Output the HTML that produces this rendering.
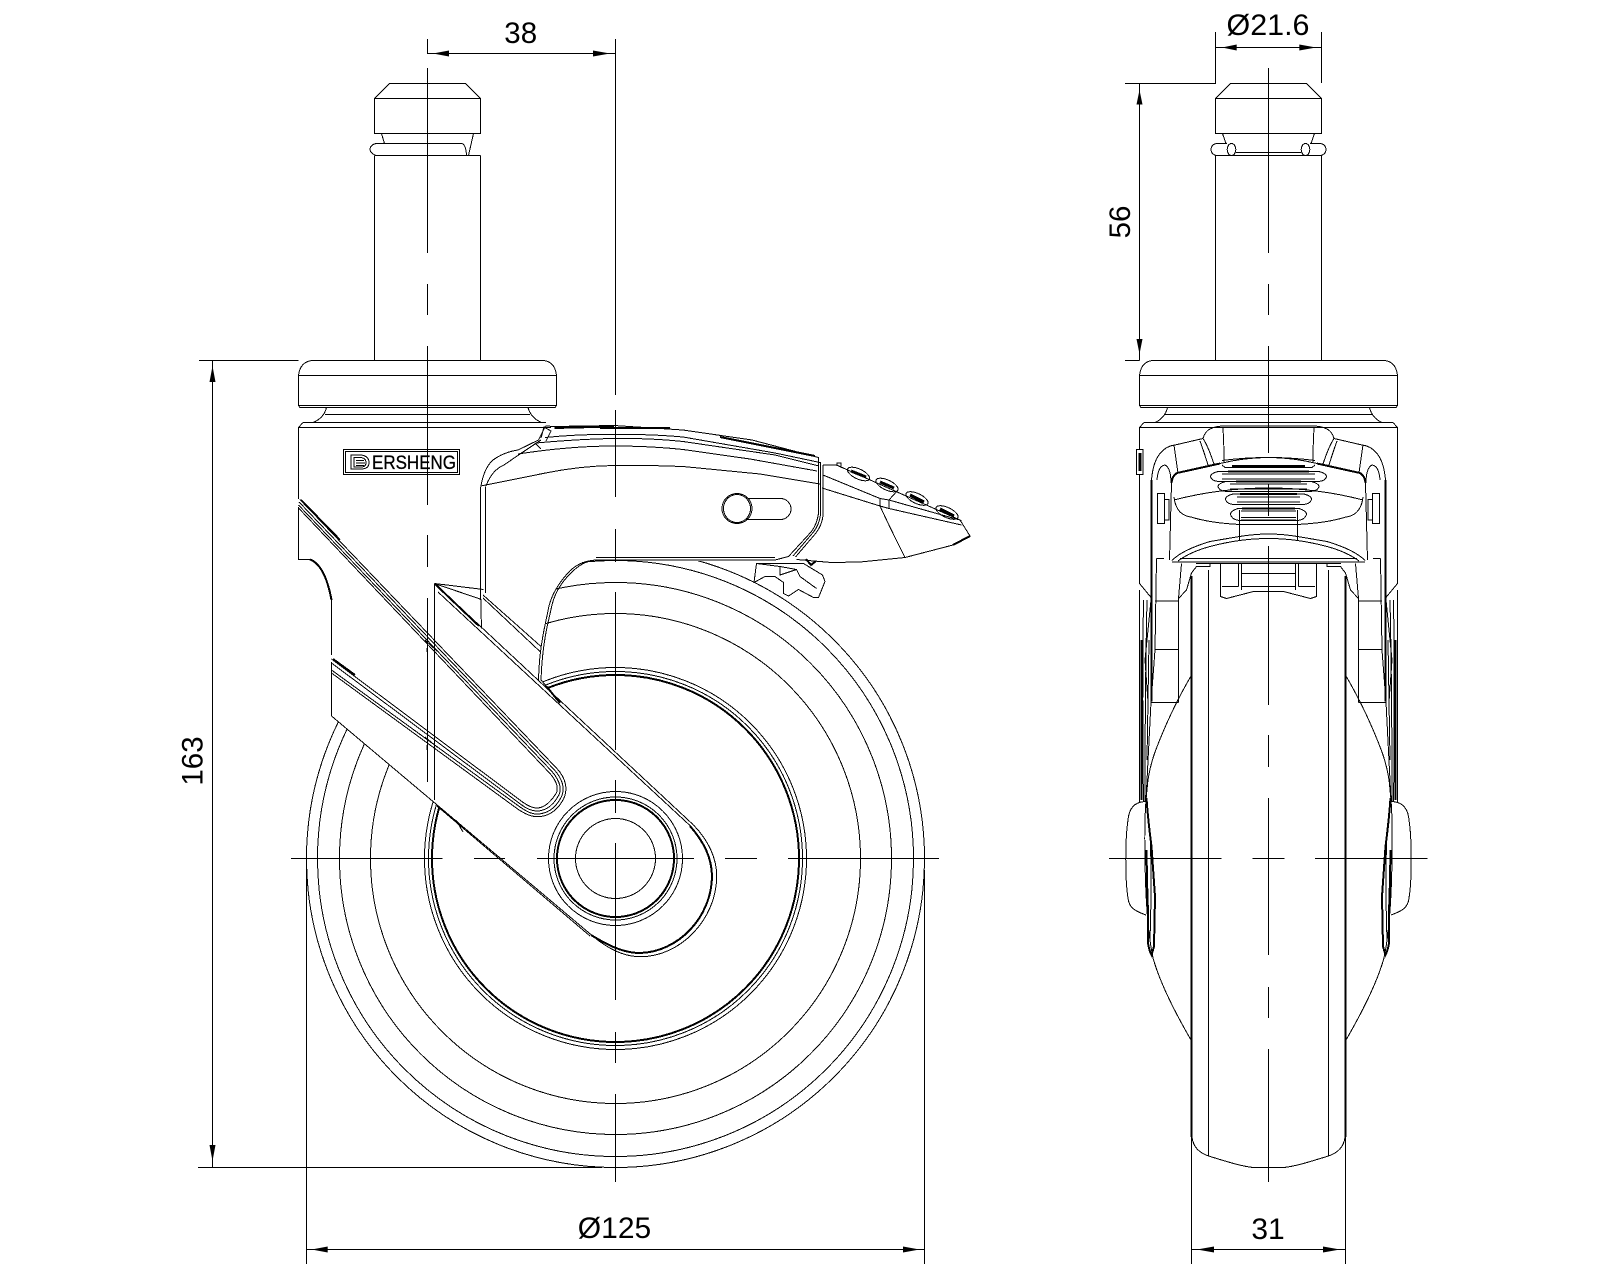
<!DOCTYPE html>
<html><head><meta charset="utf-8"><title>Caster drawing</title>
<style>
html,body{margin:0;padding:0;background:#fff}
svg{display:block}
text{font-family:"Liberation Sans",sans-serif;fill:#000}
</style></head><body>
<svg xmlns="http://www.w3.org/2000/svg" xmlns:xlink="http://www.w3.org/1999/xlink" width="1600" height="1280" viewBox="0 0 1600 1280" shape-rendering="crispEdges">
<rect width="1600" height="1280" fill="#fff"/>
<defs>
<g id="h" fill="none" stroke="#000" stroke-width="1">
  <!-- stem -->
  <path d="M1268.5 83.5H1230.5L1215.5 98.5V133.5H1268.5M1215.5 98.5H1268.5"/>
  <path d="M1222.5 133.5L1226 143.5M1215.5 155.5H1268.5M1236 152.5H1268.5"/>
  <path d="M1227 143.5H1216Q1211 145 1211 149.5Q1211 154 1216 155.5H1227"/>
  <ellipse cx="1231.5" cy="149.5" rx="4.3" ry="6"/>
  <path d="M1215.5 155.5V360.5"/>
  <!-- flange -->
  <path d="M1268.5 360.5H1152Q1141 362 1139.5 375.5V405.5L1141 407.5H1268.5M1139.5 375.5H1268.5M1139.5 405.5H1268.5"/>
  <path d="M1167.5 407.5Q1165 418 1155 422.5M1164 414.5H1268.5M1144 422.5H1268.5M1139.5 427.5L1144 422.5M1139.5 427.5H1268.5"/>
  <!-- housing outer -->
  <path d="M1139.5 427.5V583.5L1151.5 598"/>
  <path d="M1151.5 480V701.5" stroke-width="2"/>
  <path d="M1151.5 480Q1153 462 1160 453.5Q1166 446 1175 445L1203 438.5Q1205 431 1211 428.5Q1217 426 1224 426H1268.5"/>
  <path d="M1203 438.5Q1208 446 1214 464M1200 441Q1204 452 1208 465"/>
  <path d="M1223 427Q1224 445 1224 463"/>
  <path d="M1174 445L1178 473M1157 480Q1158 466 1165 465Q1171 468 1171 483"/>
  <path d="M1171.5 483Q1172 476 1177 473L1220 463.5" stroke-width="2"/>
  <path d="M1220 463.5Q1245 457.5 1268.5 457.5"/>
  <path d="M1171.5 483L1169.5 560"/>
  <path d="M1174 500Q1220 488 1268.5 488"/>
  <path d="M1174 497Q1176 515 1191 517Q1210 523 1240 524.5H1268.5"/>
  <path d="M1239.5 510V540M1241 520H1268.5"/>
  <path d="M1172 560.5Q1182 550 1210 541.5L1239.5 536.5Q1255 534 1268.5 534"/>
  <path d="M1178 561Q1190 552 1210 546.5Q1240 538.5 1268.5 538.5"/>
  <path d="M1172 562H1268.5M1180 558.5H1268.5"/>
  <!-- slots -->
  <path d="M1268.5 471.5H1218Q1210.5 473.5 1210.5 476.7Q1212 481.5 1220 481.5H1268.5M1222 474H1268.5M1222 479H1268.5"/>
  <path d="M1268.5 481.5H1226Q1218 483.5 1218 486.7Q1220 491.5 1228 491.5H1268.5M1230 484H1268.5M1230 489H1268.5"/>
  <path d="M1268.5 494H1233Q1225.5 496 1225.5 499.3Q1227 504.5 1235 504.5H1268.5M1237 497H1268.5M1237 502H1268.5"/>
  <path d="M1268.5 508.5H1238Q1230.5 511 1230.5 514.3Q1232 520 1240 520.5H1268.5M1241 511H1268.5M1241 517.5H1268.5"/>
  <path d="M1222 465L1225 467.5H1268.5M1222 460.5Q1245 457.5 1268.5 457.5"/>
  <g stroke-width="2">
    <path d="M1232 466H1268.5M1228 471.5H1268.5M1236 481.5H1268.5M1240 494H1268.5M1242 508.5H1268.5"/>
  </g>
  <!-- pin -->
  <rect x="1157.5" y="493.5" width="7" height="30"/>
  <path d="M1164.5 499.5H1169V520H1164.5"/>
  <!-- under housing arms -->
  <path d="M1156.5 558.5Q1156 580 1155 650L1151 702.5H1178.5M1155 601H1178.5M1155 649.5H1178.5M1156.5 558.5H1164"/>
  <path d="M1181.5 563.5L1178.5 598.5V702.5M1178.5 598.5L1186.5 590L1191.5 573L1196.5 566.5H1210V563"/>
  <path d="M1220.5 563V596.5L1226.5 598.5L1253.5 591.5H1268.5M1238.5 563V586.5M1241.5 563V590M1222 586.5H1238.5M1241.5 573.5H1268.5M1241.5 586.5H1268.5M1196 563.5H1268.5"/>
  <!-- fork sides -->
  <path d="M1141.5 640V800" stroke-width="2"/>
  <path d="M1139.5 590V802M1143.5 600Q1142 700 1143.5 802M1147 600Q1145 690 1145 802M1151 702L1146 800M1149 640Q1148 700 1147 760M1151 600L1145 660L1148 702"/>
  <path d="M1146.5 798Q1148 820 1151.5 846.5L1155 896.5L1154 946.5L1151.5 955Q1149 950 1148 943L1148 913L1147 880L1146.5 850" stroke-width="2"/>
  <path d="M1150 830Q1152 880 1150 940"/>
  <!-- tyre side -->
  <path d="M1191 676Q1170 712 1155 752Q1148 772 1147 790Q1144 815 1145 860Q1146 925 1153 958Q1162 990 1191 1040"/>
  <!-- bump -->
  <path d="M1145 801.5C1135 802 1129 808 1128 820C1125 840 1125 880 1128 898C1129 908 1135 911 1146 915"/>
  <!-- wheel -->
  <path d="M1191.5 576V1137" stroke-width="2"/>
  <path d="M1208.5 570V1156"/>
  <path d="M1192 1137C1193 1147 1200 1153 1208.5 1156C1225 1161 1240 1166 1253 1167.5H1268.5"/>
</g>
</defs>

<!-- WHEEL circles (left view) -->
<g fill="none" stroke="#000" stroke-width="1">
  <circle cx="615.5" cy="858.5" r="309"/>
  <circle cx="615.5" cy="858.5" r="298"/>
  <circle cx="615.5" cy="858.5" r="276"/>
  <circle cx="615.5" cy="858.5" r="245"/>
  <circle cx="615.5" cy="858.5" r="191"/>
  <circle cx="615.5" cy="858.5" r="187"/>
  <circle cx="615.5" cy="858.5" r="183.5" stroke-width="2"/>
</g>

<!-- pedal -->
<g fill="#fff" stroke="#000" stroke-width="1">
  <path d="M756.5 563.5L754 582.5L765 576.5H775L783.5 582.5V593.5L788.5 596L798.5 589.5L813.5 597.5H818.5L825 581.5L822.5 575L803.5 563.5Z"/>
  <path d="M756.5 563.5L780 566.5L796.5 569.5L800 576.5L816.5 588.5M780 566.5V575L796.5 569.5" fill="none"/>
</g>

<!-- white body + arm -->
<path fill="#fff" d="M298.5 422L545 422L614 425L683 430L752 440L819 457L823 465L960 520L970 536L953 545L905 557L860 562L800 562L596 560L582 562L555 590L547 610L541 650L541 680L546.7 686.7L693.5 825C708 840 717 858 716.7 877C716 920 680 957 640 956.7C622 956.7 606 947 593.5 936.7L331.5 716V600Q325 565 310 559.5H298.5Z"/>

<g fill="none" stroke="#000" stroke-width="1">
  <!-- stem, left view -->
  <path d="M389.5 83.5H465.5L480.5 98.5V133.5H374.5V98.5L389.5 83.5M374.5 98.5H480.5"/>
  <path d="M381.5 133.5L384.5 143.5M473.5 133.5L468.5 155.5"/>
  <path d="M376 143.5H462Q466 145 466.5 155.5H376Q370 153 370 149.5Q370 145 376 143.5Z"/>
  <path d="M374.5 155.5H480.5M374.5 155.5V360.5M480.5 155.5V360.5"/>
  <!-- flange -->
  <path d="M312 360.5H544Q555 362 556.5 375.5V405.5L555 407.5H300L298.5 405.5V375.5Q300 362 312 360.5ZM298.5 375.5H556.5M298.5 405.5H556.5"/>
  <path d="M326.5 407.5Q324 418 313 422.5M528 407.5Q531 418 541.5 422.5M325 414.5H530M303 422.5H546M298.5 427.5L303 422.5M298.5 427.5H551"/>
  <!-- body side -->
  <path d="M298.5 427.5V499M298.5 507V559.5H310Q325 565 331.5 600V655M331.5 662V716"/>
  <path d="M310 559.5Q325 565 331.5 600" stroke-width="2"/>

  <!-- slot groups -->
  <path d="M300 499.5L556.7 768.3C566 778 568.5 790 563 800C556 813 545 817 536.7 816.7C530 816.5 525 813.5 519 810L331.5 673"/>
  <path d="M299 502L554.5 770C563 780 565.5 790 560.5 798.5C554 810 545 814 536.7 814C531 814 526 811 520 807L331.5 670"/>
  <path d="M298.5 505L552 771.5C560 781 562.5 790 558 796.5C552 807 544 811 536.7 811C532 811 527 809 521 804.5L331.5 663"/>
  <path d="M298.5 508L549.5 773C557 781 559.5 790 555 795C549 804 543 808 536.7 808C533 808 528 806 522.5 802L331.5 659"/>
  <path d="M301 500L340 540" stroke-width="2"/>
  <path d="M333 659L355 675" stroke-width="2"/>
  <path d="M425 640L437 651M427 648V652M425 737L437 747M427 745V750"/>

  <!-- arm outer -->
  <path d="M434.5 583.5V800"/>
  <path d="M434.5 583.5L693.5 825"/>
  <path d="M438 592L691 826.5"/>
  <path d="M434.5 583.5L479 626" stroke-width="2"/>
  <path d="M546.7 686.7L560 703" stroke-width="2"/>
  <path d="M693.5 825C708 840 717 858 716.7 877C716 920 680 957 640 956.7C622 956.7 606 947 593.5 936.7"/>
  <path d="M690 826C704 842 712 858 712 877C711 918 678 952 640 953C622 953 606 944 591 935" stroke-width="2"/>
  <path d="M331.5 716L593.5 936.7M437 806L590 936M456 820L463 832"/>

  <!-- triangle & lever lower -->
  <path d="M434.5 583.5L483.5 589.5M434.5 583.5L481.5 599.5"/>
  <path d="M483 595L541 646.5M483 598L540.5 652"/>
  <path d="M480.5 486.5V590L481.5 628.5M485.5 486.5V593"/>

  <!-- hub -->
  <circle cx="615.5" cy="858.5" r="40"/>
  <circle cx="615.5" cy="858.5" r="58.5" stroke-width="2"/>
  <circle cx="615.5" cy="858.5" r="61.5"/>
  <circle cx="615.5" cy="858.5" r="67"/>

  <!-- lever outline -->
  <path d="M545.5 426L554.5 426.5L614 425.5L683 430L752 440L818.5 457.5V513.5Q817 524 811.5 531.5L788.5 556.5L775 560H596Q582 561 570 574Q556 588 552 605L547.5 625Q542 650 541 680L546.7 686.7"/>
  <path d="M554.5 428L614 426.5" stroke-width="2"/>
  <path d="M823 465V515.5Q822 525 816 533L795.5 557"/>
  <path d="M820.5 462V515Q819 525 813.5 532L793 556"/>
  <path d="M596 557.5H775" />
  <path d="M596 560Q578 561 567 574Q553 590 549 606L544 630Q539 655 538.5 680"/>
  <path d="M481 486Q484 468 493 460Q504 452 518 450L538.5 440L545.5 426"/>
  <path d="M486 486Q492 470 504 465L520 454L541 440"/>
  <path d="M541 438L544 427L551 431L546 441M535 443L541 449"/>
  <path d="M545 437.5Q580 434 614 434.5Q650 434 683 437L775 453L820 462.5"/>
  <path d="M536 443Q580 439 614 438.5Q650 438 683 441.5L775 455L819 466"/>
  <path d="M518 454Q570 446 614 446Q650 446 683 449.5L750 459L817 471"/>
  <path d="M481 486L545.5 473Q580 466 614 465.5H650L683 466.5L760 474L820 484"/>
  <path d="M600 428H670" stroke-width="2"/>
  <path d="M720 437L815 456" stroke-width="2"/>

  <!-- slider -->
  <ellipse cx="737" cy="508.5" rx="15" ry="15"/>
  <ellipse cx="737" cy="508.5" rx="13.5" ry="14"/>
  <path d="M747.5 498.5H780.5A10.5 10.5 0 0 1 780.5 519.5H747.5"/>

  <!-- handle -->
  <path d="M823 465L836.5 465L960 520L970 536L953 545L905 557.5L860 562L831.5 562.5L796.5 559.5"/>
  <path d="M823 475L880 498.5L889 500L961.5 520.5M822 488L880 506L889 508.5L961.5 525"/>
  <path d="M880 498.5V506M889 500V508.5M889 500L898 490M880 506Q892 532 905 557.5"/>
  <path d="M837 466V463H841V468"/>
  <path d="M953 545L970 536" stroke-width="2"/>
  <g>
    <ellipse cx="858.5" cy="474" rx="12" ry="5" transform="rotate(25 858.5 474)"/>
    <ellipse cx="887" cy="485" rx="12" ry="5" transform="rotate(25 887 485)"/>
    <ellipse cx="917" cy="498.5" rx="12" ry="5" transform="rotate(25 917 498.5)"/>
    <ellipse cx="947" cy="512.5" rx="12" ry="5" transform="rotate(25 947 512.5)"/>
    <path d="M851 471L866 477M880 482L894 488M910 495L924 502M940 509L954 516" stroke-width="3"/>
  </g>
  <path d="M806 559L811 565L816 561" stroke-width="2"/>

  <!-- logo -->
  <rect x="343.5" y="449.5" width="116" height="25"/>
  <rect x="345.5" y="451.5" width="112" height="21"/>
  <path d="M351 455H361Q369 456 369 462.5Q369 469 361 469H351ZM354 457.5H361Q366 458 366 462.5Q366 467 361 467H354ZM356 460.5H364M356 463H365M356 465.5H364"/>

  <!-- left view centre lines -->
  <path d="M427.5 68V253M427.5 284V315M427.5 346V505M427.5 535V567M427.5 598V782"/>
  <path d="M615.5 39V395M615.5 410V497M615.5 529V562M615.5 592V750M615.5 780V813M615.5 843V1000M615.5 1032V1063M615.5 1094V1182"/>
  <path d="M291 858.5H442.5M474 858.5H505M537 858.5H694M725 858.5H757M788 858.5H939"/>

  <!-- dims left -->
  <path d="M427.5 39V53.5H615.5"/>
  <path d="M199 360.5H298.5M198 1167.5H602M212.5 360.5V1167.5"/>
  <path d="M306.5 866V1264M924.5 870V1264M306.5 1249.5H924.5"/>
</g>

<!-- right view -->
<use xlink:href="#h" href="#h"/>
<use xlink:href="#h" href="#h" transform="translate(2537,0) scale(-1,1)"/>

<g fill="none" stroke="#000" stroke-width="1">
  <path d="M1268.5 68V253M1268.5 284V315M1268.5 346V453M1268.5 484V516M1268.5 546V705M1268.5 735V767M1268.5 798V955M1268.5 987V1018M1268.5 1049V1182"/>
  <path d="M1109 858.5H1221.5M1252.5 858.5H1284.5M1315 858.5H1427.5"/>
  <path d="M1125 83.5H1215.5V32M1321.5 32V83M1215.5 47.5H1321.5"/>
  <path d="M1139.5 83.5V360.5M1125 360.5H1139.5"/>
  <path d="M1191.5 1040V1264M1345.5 1040V1264M1191.5 1249.5H1345.5"/>
</g>
<rect x="1136.5" y="449.5" width="6.5" height="25" fill="#fff" stroke="#000"/>
<rect x="1138.5" y="453" width="3" height="18" fill="#000"/>

<!-- arrows -->
<g fill="#000" stroke="none" shape-rendering="auto">
  <polygon points="433,53.5 449,50.5 449,56.5"/>
  <polygon points="610,53.5 593,50.5 593,56.5"/>
  <polygon points="1222,47.5 1236.7,44.5 1236.7,50.5"/>
  <polygon points="1316,47.5 1299.3,44.5 1299.3,50.5"/>
  <polygon points="311.7,1249.5 327.7,1246.5 327.7,1252.5"/>
  <polygon points="919.5,1249.5 903,1246.5 903,1252.5"/>
  <polygon points="1197,1249.5 1214,1246.5 1214,1252.5"/>
  <polygon points="1340,1249.5 1323,1246.5 1323,1252.5"/>
  <polygon points="212.5,366 209.5,382 215.5,382"/>
  <polygon points="212.5,1161 209.5,1145 215.5,1145"/>
  <polygon points="1139.5,90 1136.5,104.5 1142.5,104.5"/>
  <polygon points="1139.5,354 1136.5,339 1142.5,339"/>
</g>

<!-- labels -->
<text x="520.7" y="43" font-size="29.5" text-anchor="middle">38</text>
<text x="1268" y="35" font-size="29.5" text-anchor="middle" textLength="83" lengthAdjust="spacingAndGlyphs">Ø21.6</text>
<text x="614.5" y="1238" font-size="30" text-anchor="middle">Ø125</text>
<text x="1268" y="1239" font-size="30" text-anchor="middle">31</text>
<text transform="translate(202.5,761) rotate(-90)" font-size="29.5" text-anchor="middle">163</text>
<text transform="translate(1130,222) rotate(-90)" font-size="29.5" text-anchor="middle">56</text>
<text x="372" y="469" font-size="19" textLength="84" lengthAdjust="spacingAndGlyphs" stroke="#000" stroke-width="0.3">ERSHENG</text>
</svg>
</body></html>
